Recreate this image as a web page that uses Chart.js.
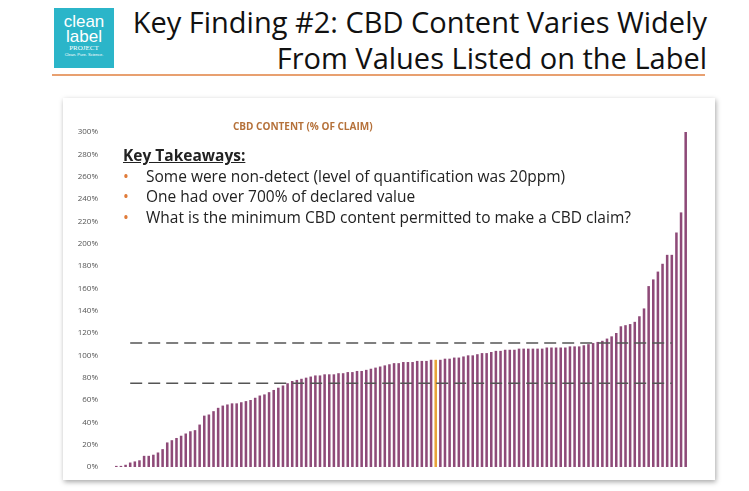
<!DOCTYPE html>
<html>
<head>
<meta charset="utf-8">
<script src="https://cdn.jsdelivr.net/npm/chart.js@4"></script>
<style>
    body { margin: 0; width: 749px; height: 491px; background: #fff; font-family: Calibri, Carlito, "Open Sans", sans-serif; position: relative; overflow: hidden; }
    .logo { position: absolute; left: 54px; top: 8px; width: 60px; height: 60px; background: #2bb5c9; color: #fff; text-align: center; font-family: Arial, "Liberation Sans", sans-serif; }
    .logo .big { font-size: 17px; line-height: 15px; padding-top: 6px; }
    .logo .proj { font-size: 7px; font-family: "Liberation Serif", serif; }
    .logo .tag { font-size: 4px; }
    .title { position: absolute; right: 42px; top: 4px; text-align: right; font-size: 29px; line-height: 36px; color: #111; font-family: "Open Sans", sans-serif; }
    .rule { position: absolute; left: 52px; top: 74px; width: 653px; height: 2px; background: #e8a070; }
    .panel { position: absolute; left: 63px; top: 98px; width: 652px; height: 382px; background: #fff; box-shadow: 1px 2px 5px rgba(0,0,0,0.35); }
    .ctitle { position: absolute; left: 233px; top: 119px; font-size: 10px; font-weight: bold; color: #b5713a; font-family: "Open Sans", sans-serif; }
    .takeaways { position: absolute; left: 123px; top: 145px; font-size: 15.5px; line-height: 20.5px; color: #222; font-family: "Open Sans", sans-serif; }
    .takeaways u { font-weight: bold; }
    .takeaways .b { color: #e07b39; display: inline-block; width: 23px; }
</style>
</head>
<body>
<div class="logo"><div class="big">clean<br>label</div><div class="proj">PROJECT</div><div class="tag">Clean. Pure. Science.</div></div>
<div class="title">Key Finding #2: CBD Content Varies Widely<br>From Values Listed on the Label</div>
<div class="rule"></div>
<div class="panel"><canvas id="chart" width="652" height="382"></canvas></div>
<div class="ctitle">CBD CONTENT (% OF CLAIM)</div>
<div class="takeaways">
    <u>Key Takeaways:</u><br>
    <span class="b">•</span>Some were non-detect (level of quantification was 20ppm)<br>
    <span class="b">•</span>One had over 700% of declared value<br>
    <span class="b">•</span>What is the minimum CBD content permitted to make a CBD claim?
</div>
<script>
// CBD content as % of label claim, sorted ascending
const cbdValues = [
    1, 1, 2, 4, 5, 6, 10, 10, 11, 13,
    16, 22, 24, 26, 28, 30, 32, 33, 38, 46,
    47, 50, 53, 55, 56, 57, 57, 58, 59, 60,
    62, 64, 65, 67, 69, 71, 73, 75, 77, 78,
    79, 80, 81, 82, 82, 83, 83, 83, 84, 84,
    85, 85, 86, 86, 87, 88, 89, 90, 91, 92,
    93, 93, 94, 94, 94, 95, 95, 95, 96, 96,
    96, 97, 97, 98, 98, 99, 100, 100, 101, 102,
    102, 103, 104, 104, 105, 105, 105, 106, 106, 106,
    106, 106, 106, 107, 107, 107, 107, 107, 108, 108,
    108, 109, 110, 111, 112, 113, 115, 117, 120, 126,
    127, 128, 130, 135, 142, 162, 168, 175, 182, 190,
    190, 210, 228, 300
];
const highlightIndex = 69;
const upperLimit = 111;
const lowerLimit = 75;
const lineStart = 3;
const lineEnd = 120;

const labels = cbdValues.map((v, i) => i + 1);
const barColors = cbdValues.map((v, i) => i === highlightIndex ? '#e8a33a' : '#8e4a78');

function limitLine(value) {
    return cbdValues.map((v, i) => (i >= lineStart && i <= lineEnd) ? value : null);
}

const dashed = {
    type: 'line',
    borderColor: '#555',
    borderWidth: 1.5,
    borderDash: [12, 6],
    pointRadius: 0,
    spanGaps: false
};

new Chart(document.getElementById('chart'), {
    data: {
        labels: labels,
        datasets: [
            Object.assign({ data: limitLine(upperLimit), order: 0 }, dashed),
            Object.assign({ data: limitLine(lowerLimit), order: 0 }, dashed),
            {
                type: 'bar',
                data: cbdValues,
                backgroundColor: barColors,
                barPercentage: 0.55,
                categoryPercentage: 1,
                order: 1
            }
        ]
    },
    options: {
        responsive: false,
        animation: false,
        layout: { padding: { left: 0, right: 27, top: 34, bottom: 5 } },
        plugins: {
            legend: { display: false },
            tooltip: { enabled: false }
        },
        scales: {
            x: {
                grid: { display: false },
                border: { display: false },
                ticks: { display: false }
            },
            y: {
                min: 0,
                max: 300,
                grid: { display: false },
                border: { display: false },
                afterFit: scale => { scale.width = 51; },
                ticks: {
                    stepSize: 20,
                    color: '#555',
                    font: { size: 8, family: 'Open Sans' },
                    padding: 8,
                    callback: v => v + '%'
                }
            }
        }
    }
});
</script>
</body>
</html>
